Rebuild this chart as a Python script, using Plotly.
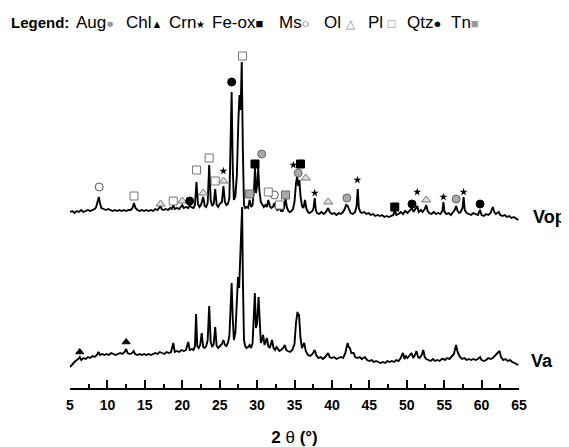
import plotly.graph_objects as go

# ---------------- data (intensity in arbitrary units) ----------------
two_theta_vop = [5.0,5.3,5.6,5.9,6.2,6.5,6.8,7.1,7.4,7.7,8.0,8.3,8.5,8.7,8.85,9.0,9.2,9.5,9.8,10.1,10.4,10.7,11.0,11.3,11.6,11.9,12.2,12.5,12.8,13.1,13.35,13.55,13.75,14.0,14.3,14.6,14.9,15.2,15.5,15.8,16.1,16.4,16.7,16.95,17.1,17.25,17.5,17.8,18.1,18.4,18.6,18.8,19.0,19.3,19.6,19.8,20.0,20.2,20.5,20.8,21.0,21.2,21.5,21.7,21.9,22.1,22.3,22.5,22.8,23.0,23.2,23.4,23.6,23.8,24.0,24.2,24.4,24.6,24.8,25.0,25.3,25.5,25.7,25.9,26.1,26.3,26.45,26.6,26.75,26.9,27.1,27.3,27.5,27.65,27.8,27.95,28.1,28.25,28.4,28.6,28.8,29.0,29.2,29.4,29.6,29.72,29.85,30.0,30.15,30.3,30.5,30.7,30.9,31.1,31.3,31.5,31.7,31.9,32.1,32.3,32.5,32.7,32.9,33.0,33.2,33.4,33.6,33.8,34.0,34.2,34.4,34.6,34.8,35.0,35.2,35.35,35.5,35.65,35.8,36.0,36.2,36.4,36.6,36.8,37.0,37.2,37.4,37.55,37.7,37.85,38.0,38.3,38.6,38.9,39.2,39.5,39.7,40.0,40.3,40.6,40.9,41.2,41.5,41.7,41.9,42.1,42.3,42.5,42.8,43.1,43.3,43.45,43.6,43.8,44.0,44.3,44.6,44.9,45.2,45.5,45.8,46.1,46.4,46.7,47.0,47.3,47.6,47.9,48.2,48.4,48.6,48.9,49.2,49.5,49.8,50.1,50.4,50.7,50.9,51.1,51.4,51.6,51.9,52.1,52.4,52.6,52.8,53.0,53.3,53.6,53.9,54.2,54.5,54.75,54.9,55.05,55.3,55.6,55.9,56.2,56.4,56.6,56.8,57.0,57.2,57.45,57.6,57.75,58.0,58.3,58.6,58.9,59.2,59.5,59.8,60.0,60.3,60.6,60.9,61.2,61.5,61.7,61.9,62.1,62.3,62.5,62.8,63.1,63.4,63.7,64.0,64.3,64.6,64.9]
intensity_vop = [26,27,25,27,26,28,26,27,28,27,28,29,31,38,41,35,30,29,28,29,28,27,28,27,28,27,28,27,28,28,30,35,30,28,27,28,27,28,27,28,27,29,28,30,32,29,28,29,28,30,29,33,29,30,29,31,33,30,31,30,33,31,30,33,56,34,31,33,41,32,31,35,73,38,32,34,49,33,31,34,36,52,36,33,34,40,90,146,70,38,42,63,118,143,128,176,88,33,30,31,30,38,31,33,50,70,45,52,71,48,36,33,31,33,31,38,32,30,31,35,30,28,29,30,27,27,30,39,30,27,26,27,29,36,55,61,52,58,42,32,30,38,29,26,25,26,27,30,40,28,25,24,26,24,26,30,26,24,25,23,25,24,26,29,33,32,28,25,24,26,32,49,30,26,25,26,24,25,23,24,22,23,22,23,21,22,21,22,23,28,23,24,26,24,27,25,27,30,26,28,32,26,28,26,29,33,27,25,24,26,24,25,24,27,36,26,24,25,23,26,28,32,27,25,26,30,41,28,25,24,23,25,24,23,28,23,22,24,23,25,31,26,24,25,26,23,22,23,21,22,20,21,19,18]

two_theta_va = [5.0,5.3,5.6,5.9,6.1,6.3,6.5,6.8,7.1,7.4,7.7,8.0,8.3,8.6,8.8,9.0,9.3,9.6,9.9,10.2,10.5,10.8,11.1,11.4,11.7,12.0,12.3,12.5,12.7,13.0,13.3,13.5,13.7,14.0,14.3,14.6,14.9,15.2,15.5,15.8,16.1,16.4,16.7,17.0,17.3,17.6,17.9,18.2,18.5,18.8,19.0,19.3,19.6,19.9,20.2,20.5,20.8,21.0,21.3,21.5,21.7,21.85,22.0,22.2,22.4,22.6,22.8,23.0,23.2,23.4,23.6,23.8,24.0,24.2,24.4,24.6,24.8,25.0,25.3,25.5,25.7,25.9,26.1,26.3,26.45,26.6,26.75,26.9,27.1,27.3,27.45,27.6,27.75,27.9,28.0,28.1,28.25,28.4,28.6,28.8,29.0,29.2,29.4,29.55,29.7,29.85,30.0,30.2,30.35,30.5,30.65,30.8,31.0,31.15,31.3,31.5,31.7,31.85,32.0,32.2,32.4,32.6,32.8,33.0,33.2,33.5,33.7,33.9,34.1,34.4,34.7,35.0,35.2,35.4,35.5,35.6,35.8,36.0,36.3,36.5,36.8,37.1,37.4,37.7,37.9,38.2,38.5,38.8,39.1,39.5,39.7,40.0,40.3,40.6,40.9,41.2,41.5,41.8,42.0,42.1,42.25,42.4,42.6,42.9,43.1,43.4,43.7,44.0,44.4,44.7,45.0,45.3,45.6,45.9,46.2,46.5,46.8,47.1,47.4,47.7,48.0,48.3,48.6,48.9,49.2,49.5,49.7,49.9,50.1,50.4,50.65,50.85,51.1,51.3,51.5,51.7,52.0,52.2,52.4,52.6,52.9,53.2,53.5,53.8,54.1,54.4,54.7,54.9,55.1,55.4,55.7,56.0,56.3,56.5,56.6,56.75,56.9,57.1,57.4,57.7,58.0,58.3,58.6,58.9,59.2,59.5,59.8,60.0,60.3,60.6,60.9,61.2,61.5,61.8,62.1,62.4,62.6,62.9,63.2,63.5,63.8,64.1,64.4,64.7,64.9]
intensity_va = [21,24,26,28,29,31,28,30,29,31,30,32,31,33,36,33,34,33,34,33,35,34,33,34,35,34,36,39,35,34,35,37,34,33,34,33,34,33,34,33,34,35,34,36,35,34,36,35,36,45,36,37,36,38,37,38,46,38,39,38,42,74,42,40,43,55,41,40,42,48,82,46,41,44,61,42,40,42,44,48,43,42,45,52,80,105,70,48,55,85,111,100,128,150,181,110,48,42,40,41,43,40,45,70,95,60,65,91,58,45,48,53,43,46,50,42,40,44,48,40,38,41,39,37,38,40,43,38,37,36,38,44,65,76,72,74,50,40,45,37,33,32,34,38,33,30,31,29,31,35,31,30,31,29,30,31,30,35,42,45,41,40,35,35,31,30,31,29,31,28,27,28,26,27,26,25,26,25,27,26,27,26,28,27,30,35,29,32,30,33,35,30,33,37,31,30,33,38,31,29,28,27,29,27,28,27,29,29,28,30,29,31,34,40,43,37,35,31,29,30,28,29,28,29,28,29,31,28,27,28,30,29,30,32,34,37,31,28,29,27,28,26,25,24,23]

vop_offset = 150  # vertical shift of the Vop pattern

# phase identification marks (2theta, height on Vop pattern)
aug_x = [30.62, 35.5, 42.0, 56.6];        aug_y = [84, 65, 40, 39]
chl_x = [6.3, 12.5];                       chl_y = [36, 46]          # on Va pattern
crn_x = [25.5, 34.85, 37.7, 43.4, 51.4, 54.9, 57.6]; crn_y = [67, 73, 45, 58, 46, 41, 46]
feox_x = [29.72, 35.8, 48.4];             feox_y = [74, 74, 31]
ms_x = [8.9, 32.3];                        ms_y = [51, 43]
ol_x = [17.1, 20.0, 22.8, 25.5, 36.5, 39.5, 52.6]; ol_y = [34, 37, 45, 57, 60, 36, 38]
pl_x = [13.55, 18.8, 21.9, 23.6, 24.4, 28.05, 31.5, 33.0]; pl_y = [42, 37, 68, 80, 57, 182, 46, 33]
qtz_x = [21.0, 26.6, 50.7, 59.8];         qtz_y = [37, 156, 34, 34]
tn_x = [29.0, 33.8];                       tn_y = [44, 43]

x_ticks = [5, 10, 15, 20, 25, 30, 35, 40, 45, 50, 55, 60, 65]

legend_names = ["Aug", "Chl", "Crn", "Fe-ox", "Ms", "Ol ", "Pl ", "Qtz", "Tn"]
legend_glyphs = ["●", "▲", "★", "■", "○", "△", "□", "●", "■"]
legend_colors = ["#999999", "black", "black", "black", "#444444", "#888888", "#888888", "black", "#999999"]

# ---------------- layout geometry ----------------
W, H = 561, 439              # page adds an 8 px body margin
ML, MR, MT, MB = 62, 50, 32, 59
PW = W - ML - MR             # plot width in px
PH = H - MT - MB             # plot height in px
def px_to_paper_x(px):       # window pixel -> paper coordinate
    return (px - 8 - ML) / PW
def px_to_paper_y(py):
    return 1 + (MT - (py - 8)) / PH

legend_px = [74, 124, 167, 210, 277, 322, 366, 405, 449]
glyph_sizes = [13, 11, 10, 13, 13, 12, 13, 13, 13]

# ---------------- figure ----------------
fig = go.Figure()

fig.add_trace(go.Scatter(x=two_theta_vop, y=[v + vop_offset for v in intensity_vop],
                         mode="lines", line=dict(color="black", width=1.9), showlegend=False))
fig.add_trace(go.Scatter(x=two_theta_va, y=intensity_va,
                         mode="lines", line=dict(color="black", width=1.9), showlegend=False))

def marks(xs, ys, symbol, fill, edge, size, offset=vop_offset, lw=1):
    fig.add_trace(go.Scatter(x=xs, y=[v + offset for v in ys], mode="markers",
                             marker=dict(symbol=symbol, color=fill, size=size,
                                         line=dict(color=edge, width=lw)),
                             showlegend=False, cliponaxis=False))

marks(aug_x, aug_y, "circle", "#a8a8a8", "#666666", 8)
marks(chl_x, chl_y, "triangle-up", "black", "black", 7, offset=0)
marks(crn_x, crn_y, "star", "black", "black", 6, lw=0)
marks(feox_x, feox_y, "square", "black", "black", 8)
marks(ms_x, ms_y, "circle", "white", "#555555", 8)
marks(ol_x, ol_y, "triangle-up", "#e0e0e0", "#777777", 8)
marks(pl_x, pl_y, "square", "white", "#777777", 8)
marks(qtz_x, qtz_y, "circle", "black", "black", 8)
marks(tn_x, tn_y, "square", "#a8a8a8", "#666666", 8)

ly = px_to_paper_y(22)
fig.add_annotation(text="<b>Legend:</b>", xref="paper", yref="paper", x=px_to_paper_x(9), y=ly,
                   xanchor="left", yanchor="middle", showarrow=False,
                   font=dict(family="Liberation Sans, Arial", size=15, color="black"))
for name, g, c, p, gs in zip(legend_names, legend_glyphs, legend_colors, legend_px, glyph_sizes):
    fig.add_annotation(text=f"{name}<span style='color:{c};font-size:{gs}px'>{g}</span>",
                       xref="paper", yref="paper", x=px_to_paper_x(p), y=ly,
                       xanchor="left", yanchor="middle", showarrow=False,
                       font=dict(family="Liberation Sans, Arial", size=17, color="black"))

fig.add_annotation(text="<b>Vop</b>", xref="paper", yref="y", x=px_to_paper_x(549), y=388 - 217,
                   xanchor="center", yanchor="middle", showarrow=False,
                   font=dict(family="Liberation Sans, Arial", size=18, color="black"))
fig.add_annotation(text="<b>Va</b>", xref="paper", yref="y", x=px_to_paper_x(542), y=388 - 361,
                   xanchor="center", yanchor="middle", showarrow=False,
                   font=dict(family="Liberation Sans, Arial", size=18, color="black"))

fig.update_xaxes(range=[5, 65], tickmode="array", tickvals=x_ticks,
                 ticktext=[str(t) for t in x_ticks],
                 showline=True, linecolor="black", linewidth=1.5,
                 ticks="inside", ticklen=8, tickwidth=1.5, tickcolor="black",
                 ticklabelstandoff=3, automargin=False,
                 minor=dict(ticks="inside", tickmode="array",
                            tickvals=[7.5 + 5 * i for i in range(12)],
                            ticklen=4, tickwidth=1.5, tickcolor="black"),
                 showgrid=False, zeroline=False,
                 tickfont=dict(family="Liberation Sans, Arial", size=14, color="black", weight="bold"),
                 title=dict(text="<b>2</b> θ <b>(°)</b>", standoff=27,
                            font=dict(family="Liberation Sans, Arial", size=17, color="black")))
fig.update_yaxes(visible=False, range=[0, PH], automargin=False)

fig.update_layout(width=W, height=H, margin=dict(l=ML, r=MR, t=MT, b=MB, autoexpand=False),
                  plot_bgcolor="white", paper_bgcolor="white")

fig.write_html("out.html")
